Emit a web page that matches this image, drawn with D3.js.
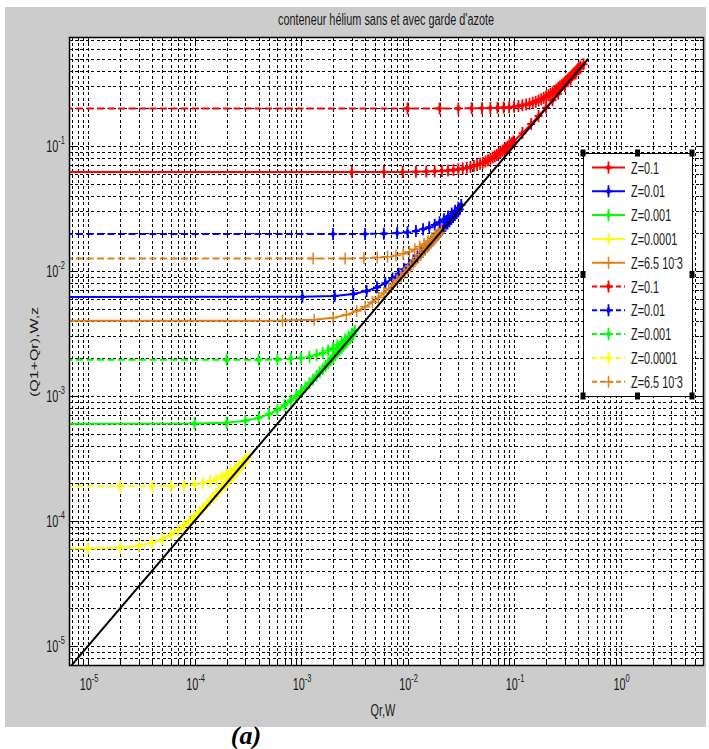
<!DOCTYPE html>
<html><head><meta charset="utf-8">
<script src="https://cdn.jsdelivr.net/npm/d3@7"></script>
<style>body{margin:0;background:#fff;} text{font-family:"Liberation Sans",Arial,sans-serif;fill:#1a1a1a;}</style>
</head><body><svg id="chart" width="709" height="749"></svg>
<script>
const title = "conteneur hélium sans et avec garde d'azote";
const xLabel = "Qr,W";
const yLabel = "(Q1+Qr),W,z";
const caption = "(a)";
const xLimits = [6.63e-6, 6.08];
const yLimits = [6.92e-6, 0.745];
const xTickExponents = [-5, -4, -3, -2, -1, 0];
const yTickExponents = [-5, -4, -3, -2, -1];
const legendLabels = ["Z=0.1", "Z=0.01", "Z=0.001", "Z=0.0001", "Z=6.5 10^-3"];
const seriesColors = ["#ff0000", "#0000ff", "#00ff00", "#ffff00", "#e0801a"];
const asymptote = [[1e-6, 1e-6], [0.5, 0.5]];

// solid curves  [Qr, Q1+Qr]
const z01Solid = [[1e-6,0.062],[0.003,0.062],[0.006,0.062],[0.009,0.0621],[0.012,0.0623],[0.015,0.0625],[0.018,0.0628],[0.021,0.0632],[0.024,0.0637],[0.027,0.0644],[0.030,0.0651],[0.033,0.066],[0.036,0.0669],[0.039,0.068],[0.042,0.0693],[0.045,0.0706],[0.048,0.0721],[0.051,0.0736],[0.054,0.0753],[0.057,0.077],[0.060,0.0788],[0.063,0.0808],[0.066,0.0828],[0.069,0.0848],[0.072,0.087],[0.075,0.0892],[0.078,0.0915],[0.081,0.0938],[0.084,0.0961],[0.087,0.0985],[0.090,0.101],[0.093,0.1034],[0.096,0.1059],[0.099,0.1085],[0.12,0.1269],[0.145,0.150],[0.17,0.1739],[0.2,0.2029],[0.23,0.2323],[0.26,0.2618],[0.3,0.3013],[0.34,0.3404],[0.38,0.3804],[0.42,0.4203],[0.45,0.4503]];
const z001Solid = [[1e-6,0.0062],[0.00103,0.00622],[0.00207,0.00632],[0.0031,0.00654],[0.00413,0.00691],[0.00517,0.00741],[0.0062,0.00801],[0.00723,0.00873],[0.00827,0.00952],[0.0093,0.01035],[0.01033,0.01123],[0.01137,0.01214],[0.0124,0.01308],[0.01343,0.01403],[0.01447,0.01499],[0.0155,0.01597],[0.01653,0.01696],[0.01757,0.01795],[0.0186,0.01895],[0.01963,0.01995],[0.02067,0.02096],[0.0217,0.02197],[0.02273,0.02299],[0.02377,0.024],[0.0248,0.02501],[0.02583,0.02604],[0.02687,0.02706],[0.0279,0.02808],[0.02893,0.0291],[0.02997,0.03012],[0.031,0.03115]];
const z0001Solid = [[1e-6,0.0006],[0.0001,0.000602],[0.0002,0.000612],[0.0003,0.000633],[0.0004,0.000669],[0.0005,0.000717],[0.0006,0.000775],[0.0007,0.000845],[0.0008,0.000921],[0.0009,0.001002],[0.0010,0.001087],[0.0011,0.001175],[0.0012,0.001266],[0.0013,0.001358],[0.0014,0.001451],[0.0015,0.001546],[0.0016,0.001641],[0.0017,0.001737],[0.0018,0.001834],[0.0019,0.001931],[0.0020,0.002028],[0.0021,0.002126],[0.0022,0.002225],[0.0023,0.002323],[0.0024,0.002421],[0.0025,0.00252],[0.0026,0.002618],[0.0027,0.002717],[0.0028,0.002816],[0.0029,0.002915],[0.0030,0.003014],[0.0031,0.003114]];
const z00001Solid = [[1e-6,6.0e-5],[1e-5,6.02e-5],[2e-5,6.12e-5],[3e-5,6.33e-5],[4e-5,6.69e-5],[5e-5,7.17e-5],[6e-5,7.75e-5],[7e-5,8.45e-5],[8e-5,9.21e-5],[9e-5,1.002e-4],[1.0e-4,1.087e-4],[1.1e-4,1.175e-4],[1.2e-4,1.266e-4],[1.3e-4,1.358e-4],[1.4e-4,1.451e-4],[1.5e-4,1.546e-4],[1.6e-4,1.641e-4],[1.7e-4,1.737e-4],[1.8e-4,1.834e-4],[1.9e-4,1.931e-4],[2.0e-4,2.028e-4],[2.1e-4,2.126e-4],[2.2e-4,2.225e-4],[2.3e-4,2.323e-4],[2.4e-4,2.421e-4],[2.5e-4,2.52e-4],[2.6e-4,2.618e-4],[2.7e-4,2.717e-4],[2.8e-4,2.816e-4],[2.9e-4,2.915e-4],[3.0e-4,3.014e-4]];
const z65Solid = [[1e-6,0.004],[0.00067,0.00401],[0.00133,0.00408],[0.002,0.00422],[0.00267,0.00446],[0.00333,0.00478],[0.004,0.00517],[0.00467,0.00563],[0.00533,0.00614],[0.006,0.00668],[0.00667,0.00725],[0.00733,0.00783],[0.008,0.00844],[0.00867,0.00905],[0.00933,0.00967],[0.01,0.0103],[0.01067,0.01094],[0.01133,0.01158],[0.012,0.01223],[0.01267,0.01287],[0.01333,0.01352],[0.014,0.01418],[0.01467,0.01483],[0.01533,0.01548],[0.016,0.01614],[0.01667,0.0168],[0.01733,0.01746],[0.018,0.01811],[0.01867,0.01878],[0.01933,0.01943],[0.02,0.0201]];

// dashed curves  [Qr, Q1+Qr]
const z01Dashed = [[1e-6,0.2],[0.01,0.2],[0.02,0.2],[0.03,0.2],[0.04,0.2004],[0.05,0.2007],[0.06,0.2013],[0.07,0.2022],[0.08,0.2033],[0.09,0.2047],[0.10,0.2066],[0.11,0.2088],[0.12,0.2115],[0.13,0.2145],[0.14,0.2181],[0.15,0.2221],[0.16,0.2265],[0.17,0.2314],[0.18,0.2367],[0.19,0.2423],[0.20,0.2484],[0.21,0.2548],[0.22,0.2614],[0.23,0.2684],[0.24,0.2757],[0.25,0.2832],[0.26,0.2909],[0.27,0.2988],[0.28,0.3069],[0.29,0.3151],[0.30,0.3234],[0.31,0.3321],[0.32,0.3407],[0.33,0.3495],[0.34,0.3584],[0.35,0.3673],[0.36,0.3763],[0.37,0.3854],[0.38,0.3946],[0.39,0.4038],[0.40,0.4131],[0.41,0.4224],[0.42,0.4318]];
const z001Dashed = [[1e-6,0.0198],[0.002,0.0198],[0.004,0.0198],[0.006,0.0199],[0.008,0.0201],[0.010,0.0204],[0.012,0.0209],[0.014,0.0216],[0.016,0.0224],[0.018,0.0234],[0.020,0.0246],[0.022,0.0259],[0.024,0.0273],[0.026,0.0288],[0.028,0.0304],[0.030,0.032],[0.032,0.0337]];
const z0001Dashed = [[1e-6,0.00195],[0.0002,0.00195],[0.0004,0.00195],[0.0006,0.00196],[0.0008,0.00198],[0.0010,0.00201],[0.0012,0.00206],[0.0014,0.00213],[0.0016,0.00221],[0.0018,0.00231],[0.0020,0.00242],[0.0022,0.00255],[0.0024,0.00269],[0.0026,0.00284],[0.0028,0.00299],[0.0030,0.00315],[0.0032,0.00332]];
const z00001Dashed = [[1e-6,1.9e-4],[2e-5,1.9e-4],[4e-5,1.9e-4],[6e-5,1.91e-4],[8e-5,1.93e-4],[1.0e-4,1.96e-4],[1.2e-4,2.01e-4],[1.4e-4,2.07e-4],[1.6e-4,2.15e-4],[1.8e-4,2.25e-4],[2.0e-4,2.36e-4],[2.2e-4,2.48e-4],[2.4e-4,2.62e-4],[2.6e-4,2.76e-4],[2.8e-4,2.92e-4],[3.0e-4,3.07e-4],[3.2e-4,3.24e-4]];
const z65Dashed = [[1e-6,0.0126],[0.0013,0.0126],[0.0026,0.0126],[0.0039,0.01268],[0.0052,0.01281],[0.0065,0.01301],[0.0078,0.01332],[0.0091,0.01374],[0.0104,0.01427],[0.0117,0.01491],[0.013,0.01565],[0.0143,0.01647],[0.0156,0.01737],[0.0169,0.01833],[0.0182,0.01933],[0.0195,0.02037],[0.0208,0.02147]];

const solidSeries = [z01Solid, z001Solid, z0001Solid, z00001Solid, z65Solid];
const dashedSeries = [z01Dashed, z001Dashed, z0001Dashed, z00001Dashed, z65Dashed];

const svg = d3.select("#chart");
const L = 69, R = 704, T = 37, B = 666;
const SX = 0.68; // horizontal squeeze of the text in the source image

svg.append("rect").attr("x", 5).attr("y", 7).attr("width", 701).attr("height", 720).attr("fill", "#cccccc");
svg.append("rect").attr("x", L).attr("y", T).attr("width", R - L).attr("height", B - T).attr("fill", "#fff");

const x = d3.scaleLog().domain(xLimits).range([L, R]);
const y = d3.scaleLog().domain(yLimits).range([B, T]);

function sqText(parent, px, py, anchor, size, parts, rotate) {
  const g = parent.append("g").attr("transform", rotate ? `translate(${px},${py}) rotate(-90) scale(1,${SX})` : `translate(${px},${py}) scale(${SX},1)`);
  const t = g.append("text").attr("text-anchor", anchor).attr("font-size", size);
  parts.forEach(p => {
    const ts = t.append("tspan").text(p.t);
    if (p.fs) ts.attr("font-size", p.fs);
    if (p.dy) ts.attr("dy", p.dy);
  });
  return t;
}

// grid
const xGrid = x.ticks().filter(v => v > xLimits[0] && v < xLimits[1]);
const yGrid = y.ticks().filter(v => v > yLimits[0] && v < yLimits[1]);
const grid = svg.append("g").attr("stroke", "#000").attr("stroke-width", 1).attr("stroke-dasharray", "3,2.5").attr("shape-rendering", "crispEdges");
grid.selectAll("line.gx").data(xGrid).join("line").attr("x1", d => Math.round(x(d)) + 0.5).attr("x2", d => Math.round(x(d)) + 0.5).attr("y1", T).attr("y2", B);
grid.selectAll("line.gy").data(yGrid).join("line").attr("y1", d => Math.round(y(d)) + 0.5).attr("y2", d => Math.round(y(d)) + 0.5).attr("x1", L).attr("x2", R);

// ticks on all sides
const isMajor = v => Math.abs(Math.log10(v) - Math.round(Math.log10(v))) < 1e-9;
const tk = svg.append("g").attr("stroke", "#000").attr("stroke-width", 1).attr("shape-rendering", "crispEdges");
xGrid.forEach(v => {
  const len = isMajor(v) ? 7 : 4, px = Math.round(x(v)) + 0.5;
  tk.append("line").attr("x1", px).attr("x2", px).attr("y1", B).attr("y2", B - len);
  tk.append("line").attr("x1", px).attr("x2", px).attr("y1", T).attr("y2", T + len);
});
yGrid.forEach(v => {
  const len = isMajor(v) ? 7 : 4, py = Math.round(y(v)) + 0.5;
  tk.append("line").attr("y1", py).attr("y2", py).attr("x1", L).attr("x2", L + len);
  tk.append("line").attr("y1", py).attr("y2", py).attr("x1", R).attr("x2", R - len);
});

// clip
svg.append("clipPath").attr("id", "clip").append("rect").attr("x", L).attr("y", T).attr("width", R - L).attr("height", B - T);
const plot = svg.append("g").attr("clip-path", "url(#clip)");
const line = d3.line().x(d => x(d[0])).y(d => y(d[1]));

function markerPath(thin) {
  return thin ? "M0,-6V6M-5,0H5" : "M0,-6V6M-4,0H4";
}
function drawSeries(data, color, dashed, idx) {
  plot.append("path").datum(data).attr("d", line).attr("fill", "none").attr("stroke", color)
    .attr("stroke-width", 2).attr("stroke-dasharray", dashed ? "7,3.5" : null);
  const thin = idx === 4;
  const g = plot.append("g");
  data.forEach(d => {
    const m = g.append("g").attr("transform", `translate(${x(d[0])},${y(d[1])})`);
    m.append("path").attr("d", markerPath(thin)).attr("stroke", color).attr("stroke-width", thin ? 1.5 : 1.8).attr("fill", "none");
    if (!thin) m.append("path").attr("d", "M0,-4L2.4,0L0,4L-2.4,0Z").attr("fill", color);
  });
}
solidSeries.forEach((s, i) => drawSeries(s, seriesColors[i], false, i));
dashedSeries.forEach((s, i) => drawSeries(s, seriesColors[i], true, i));
plot.append("path").datum(asymptote).attr("d", line).attr("fill", "none").attr("stroke", "#000").attr("stroke-width", 2);

// frame
svg.append("rect").attr("x", L + 0.5).attr("y", T + 0.5).attr("width", R - L - 1).attr("height", B - T - 1).attr("fill", "none").attr("stroke", "#000").attr("stroke-width", 1.5);

// tick labels
xTickExponents.forEach(e => {
  sqText(svg, x(Math.pow(10, e)) + 1, 690, "middle", 16, [{t: "10"}, {t: String(e), fs: 11, dy: -8}]);
});
yTickExponents.forEach(e => {
  sqText(svg, L - 4, y(Math.pow(10, e)) + 6, "end", 16, [{t: "10"}, {t: String(e), fs: 11, dy: -8}]);
});

// titles
sqText(svg, 386, 25, "middle", 16, [{t: title}]);
sqText(svg, 383, 716, "middle", 16, [{t: xLabel}]);
sqText(svg, 38, 352, "middle", 16, [{t: yLabel}], true);
svg.append("text").attr("x", 246).attr("y", 744).attr("text-anchor", "middle")
  .style("font-family", "'Liberation Serif','Times New Roman',serif")
  .style("font-weight", "bold").style("font-style", "italic").style("font-size", "26px").style("fill", "#000").text(caption);

// legend
const lg = svg.append("g");
const lx0 = 583, ly0 = 153, lx1 = 692, ly1 = 396;
lg.append("rect").attr("x", lx0 + 0.5).attr("y", ly0 + 0.5).attr("width", lx1 - lx0).attr("height", ly1 - ly0).attr("fill", "#fff").attr("stroke", "#000").attr("stroke-width", 1);
const rowY = i => 167.5 + i * 23.8;
const legendItems = legendLabels.map((l, i) => ({label: l, color: seriesColors[i], dashed: false, idx: i}))
  .concat(legendLabels.map((l, i) => ({label: l, color: seriesColors[i], dashed: true, idx: i})));
legendItems.forEach((it, i) => {
  const ry = rowY(i);
  lg.append("line").attr("x1", 592).attr("x2", 625).attr("y1", ry).attr("y2", ry).attr("stroke", it.color).attr("stroke-width", 2)
    .attr("stroke-dasharray", it.dashed ? "5,3" : null);
  const thin = it.idx === 4;
  const m = lg.append("g").attr("transform", `translate(608.5,${ry})`);
  m.append("path").attr("d", markerPath(thin)).attr("stroke", it.color).attr("stroke-width", thin ? 1.5 : 1.8).attr("fill", "none");
  if (!thin) m.append("path").attr("d", "M0,-4L2.4,0L0,4L-2.4,0Z").attr("fill", it.color);
  const parts = it.label.includes("^") ? [{t: "Z=6.5 10"}, {t: "-", fs: 11, dy: -7}, {t: "3", dy: 7}] : [{t: it.label}];
  sqText(lg, 631, ry + 6, "start", 16, parts);
});
// selection handles
[[lx0, ly0], [(lx0 + lx1) / 2, ly0], [lx1, ly0], [lx0, (ly0 + ly1) / 2], [lx1, (ly0 + ly1) / 2], [lx0, ly1], [(lx0 + lx1) / 2, ly1], [lx1, ly1]].forEach(p => {
  lg.append("rect").attr("x", p[0] - 2.5).attr("y", p[1] - 3.5).attr("width", 5).attr("height", 7).attr("fill", "#000");
});
</script></body></html>
